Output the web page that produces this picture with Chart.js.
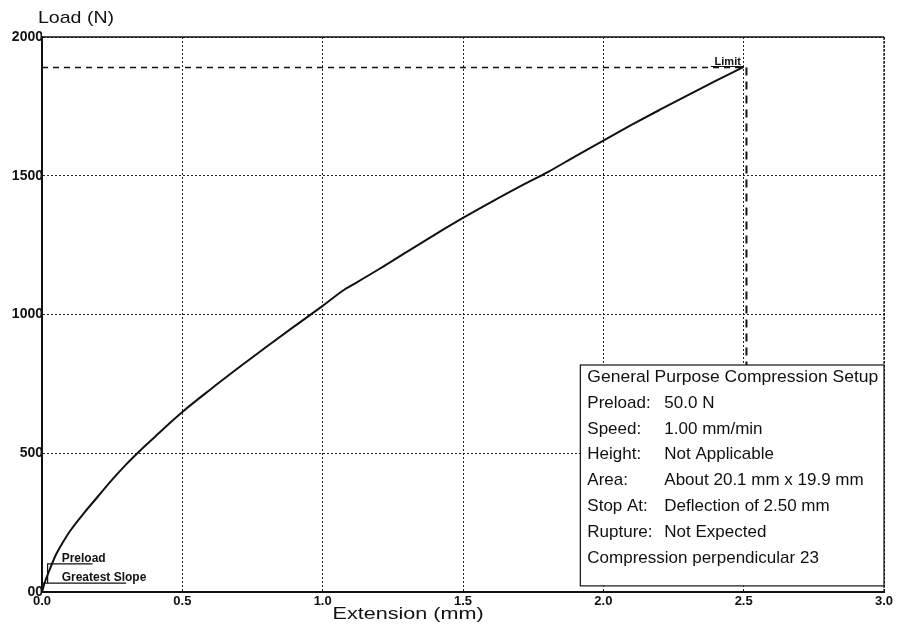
<!DOCTYPE html>
<html><head><meta charset="utf-8">
<script src="https://cdn.jsdelivr.net/npm/chart.js@4/dist/chart.umd.min.js"></script>
<style>html,body{margin:0;padding:0;background:#fff}#wrap{width:899px;height:628px;position:relative}</style>
</head><body><div id="wrap"><canvas id="c"></canvas></div>
<script>
// Load–extension curve (mm, N)
const extension = [0,0.01,0.025,0.05,0.075,0.1,0.15,0.2,0.25,0.3,0.35,0.4,0.45,0.5,0.6,0.7,0.8,0.9,1.0,1.078,1.1,1.2,1.3,1.4,1.5,1.6,1.7,1.8,1.9,2.0,2.1,2.2,2.3,2.4,2.5];
const load      = [0,35,75,135,180,220,285,345,405,460,510,557,604,649,730,808,884,958,1031,1090,1103,1163,1226,1288,1348,1405,1460,1512,1570,1627,1683,1737,1790,1842,1892];
const xTickValues = [0,0.5,1.0,1.5,2.0,2.5,3.0];
const xTickLabels = ["0.0","0.5","1.0","1.5","2.0","2.5","3.0"];
const yTickValues = [0,500,1000,1500,2000];
const yTickLabels = ["00","500","1000","1500","2000"];
const limitX = [0,2.5];
const limitLoad = 1890;
const limitVertX = 2.51;
const limitVertBottom = 818;
const preloadX = [0.02,0.18];
const preloadLoad = 101;
const slopeX = [0,0.3];
const slopeLoad = 32;
const boxLeftX = 1.918, boxTopLoad = 818, boxBottomLoad = 22;
const infoLabels = ["Preload:","Speed:","Height:","Area:","Stop At:","Rupture:"];
const infoValues = ["50.0 N","1.00 mm/min","Not Applicable","About 20.1 mm x 19.9 mm","Deflection of 2.50 mm","Not Expected"];
const infoTitle = "General Purpose Compression Setup";
const infoFooter = "Compression perpendicular 23";

const curve = extension.map((x,i)=>({x, y: load[i]}));

const textPlugin = {
  id:'texts',
  afterDraw(chart){
    const ctx = chart.ctx, xs = chart.scales.x, ys = chart.scales.y, ca = chart.chartArea;
    ctx.save();
    // frame top/right
    ctx.strokeStyle = '#111'; ctx.lineWidth = 1.5;
    ctx.beginPath(); ctx.moveTo(ca.left, ca.top); ctx.lineTo(ca.right, ca.top); ctx.stroke();
    ctx.lineWidth = 1.2; ctx.setLineDash([3,1]);
    ctx.beginPath(); ctx.moveTo(ca.right, ca.top); ctx.lineTo(ca.right, ca.bottom); ctx.stroke();
    ctx.setLineDash([]);
    // axis titles
    ctx.fillStyle = '#111';
    ctx.textBaseline = 'alphabetic';
    ctx.font = '17px "Liberation Sans", Arial, sans-serif';
    ctx.save(); ctx.translate(38, 23); ctx.scale(1.15,1); ctx.textAlign='left'; ctx.fillText('Load (N)',0,0); ctx.restore();
    ctx.save(); ctx.translate(xs.getPixelForValue(1.035), 619); ctx.scale(1.27,1); ctx.textAlign='left'; ctx.fillText('Extension (mm)',0,0); ctx.restore();
    // limit label
    ctx.font = 'bold 11px "Liberation Sans", Arial, sans-serif';
    ctx.textAlign = 'right';
    const lx = xs.getPixelForValue(2.49), ly = ys.getPixelForValue(limitLoad) - 3;
    ctx.fillText('Limit', lx, ly);
    ctx.lineWidth = 1; ctx.strokeStyle = '#111';
    ctx.beginPath(); ctx.moveTo(lx-30, ly+2); ctx.lineTo(lx+3, ly+2); ctx.stroke();
    // preload / greatest slope labels
    ctx.textAlign = 'left';
    ctx.font = 'bold 12px "Liberation Sans", Arial, sans-serif';
    ctx.fillText('Preload', xs.getPixelForValue(0.07), ys.getPixelForValue(preloadLoad)-2);
    ctx.fillText('Greatest Slope', xs.getPixelForValue(0.07), ys.getPixelForValue(slopeLoad)-2);
    // info box
    const bx = xs.getPixelForValue(boxLeftX), by = ys.getPixelForValue(boxTopLoad);
    const bw = ca.right - bx, bh = ys.getPixelForValue(boxBottomLoad) - by;
    ctx.fillStyle = '#fff'; ctx.fillRect(bx, by, bw, bh);
    ctx.strokeStyle = '#111'; ctx.lineWidth = 1.2; ctx.strokeRect(bx, by, bw, bh);
    ctx.fillStyle = '#111';
    ctx.font = '17px "Liberation Sans", Arial, sans-serif';
    const lh = 25.8;
    let y = by + 17;
    ctx.save(); ctx.translate(bx + 7, y); ctx.scale(1.03,1); ctx.fillText(infoTitle, 0, 0); ctx.restore();
    for (let i=0;i<infoLabels.length;i++){
      y += lh;
      ctx.fillText(infoLabels[i], bx + 7, y);
      ctx.fillText(infoValues[i], bx + 84, y);
    }
    y += lh;
    ctx.fillText(infoFooter, bx + 7, y);
    ctx.restore();
  }
};

new Chart(document.getElementById('c'), {
  type:'scatter',
  data:{ datasets:[
    {data: curve, showLine:true, borderColor:'#111', borderWidth:2, pointRadius:0, cubicInterpolationMode:'monotone'},
    {data: limitX.map(x=>({x,y:limitLoad})), showLine:true, borderColor:'#111', borderWidth:1.5, borderDash:[6,5], pointRadius:0},
    {data: [{x:limitVertX,y:limitLoad},{x:limitVertX,y:limitVertBottom}], showLine:true, borderColor:'#111', borderWidth:2, borderDash:[8,6], pointRadius:0},
    {data: [{x:preloadX[1],y:preloadLoad},{x:preloadX[0],y:preloadLoad},{x:preloadX[0],y:slopeLoad}], showLine:true, borderColor:'#111', borderWidth:1.2, pointRadius:0},
    {data: slopeX.map(x=>({x,y:slopeLoad})), showLine:true, borderColor:'#111', borderWidth:1.2, pointRadius:0}
  ]},
  options:{
    responsive:true, maintainAspectRatio:false, animation:false,
    layout:{padding:{top:37,right:15,left:0,bottom:0}},
    plugins:{legend:{display:false}, tooltip:{enabled:false}},
    scales:{
      x:{type:'linear', min:0, max:3,
        afterBuildTicks(s){ s.ticks = xTickValues.map(v=>({value:v})); },
        afterFit(s){ s.height = 36; },
        ticks:{callback:(v)=>{const i=xTickValues.indexOf(v);return i>=0?xTickLabels[i]:'';}, color:'#111', font:{family:'"Liberation Sans", Arial, sans-serif', size:13, weight:'bold'}, padding:2, maxRotation:0},
        grid:{color:'#222', lineWidth:1, drawTicks:false, tickLength:0},
        border:{display:true, color:'#111', width:2, dash:[2,2]}
      },
      y:{type:'linear', min:0, max:2000,
        afterBuildTicks(s){ s.ticks = yTickValues.map(v=>({value:v})); },
        afterFit(s){ s.width = 42; },
        ticks:{callback:(v)=>{const i=yTickValues.indexOf(v);return i>=0?yTickLabels[i]:'';}, color:'#111', font:{family:'"Liberation Sans", Arial, sans-serif', size:14, weight:'bold'}, padding:-1},
        grid:{color:'#222', lineWidth:1, drawTicks:false, tickLength:0},
        border:{display:true, color:'#111', width:2, dash:[2,2]}
      }
    }
  },
  plugins:[textPlugin]
});
</script>
</body></html>
